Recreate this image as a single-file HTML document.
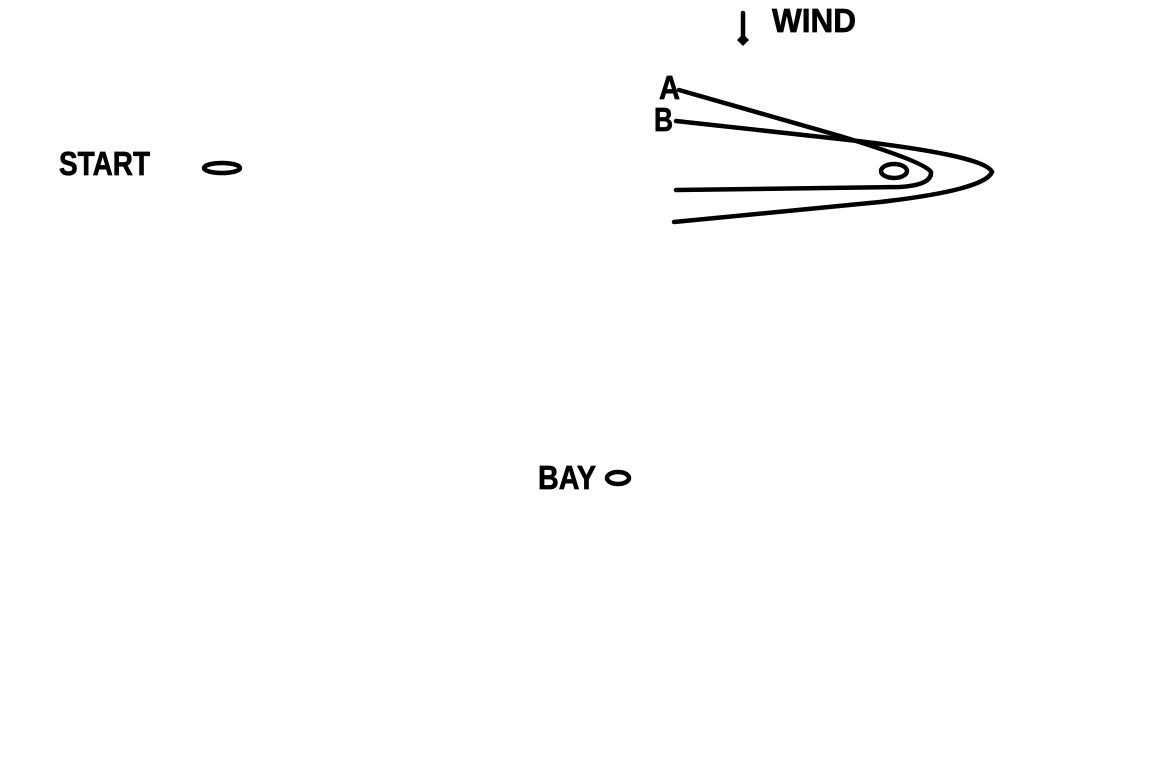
<!DOCTYPE html>
<html><head><style>html,body{margin:0;padding:0;background:#fff;}svg{display:block}</style></head>
<body>
<svg width="1152" height="768" viewBox="0 0 1152 768" xmlns="http://www.w3.org/2000/svg">
<rect width="1152" height="768" fill="#fff"/>
<g font-family="Liberation Sans, sans-serif" font-weight="bold" font-size="33" fill="#000" stroke="#000" stroke-width="0.7">
<text x="59" y="175" textLength="91" lengthAdjust="spacingAndGlyphs">START</text>
<text x="772" y="32" textLength="84" lengthAdjust="spacingAndGlyphs">WIND</text>
<text x="538" y="489" textLength="58" lengthAdjust="spacingAndGlyphs">BAY</text>
<text x="659" y="99" textLength="21" lengthAdjust="spacingAndGlyphs">A</text>
<text x="654" y="131" textLength="19" lengthAdjust="spacingAndGlyphs">B</text>
</g>
<g fill="none" stroke="#000" stroke-width="4.5" stroke-linecap="round">
<ellipse cx="222" cy="168" rx="18" ry="5"/>
<ellipse cx="618" cy="478" rx="11" ry="6"/>
<ellipse cx="894" cy="171" rx="13" ry="7"/>
<line x1="743" y1="13" x2="743" y2="38"/>
<path d="M679 90 L840 136 Q925 162 931 172 Q932 185 900 187 L676 190"/>
<path d="M676 121 L840 139 Q985 155 992 172 Q985 190 880 202 L674 222"/>
</g>
<polygon points="743,34 749,40 743,46 737,40" fill="#000"/>
</svg>
</body></html>
